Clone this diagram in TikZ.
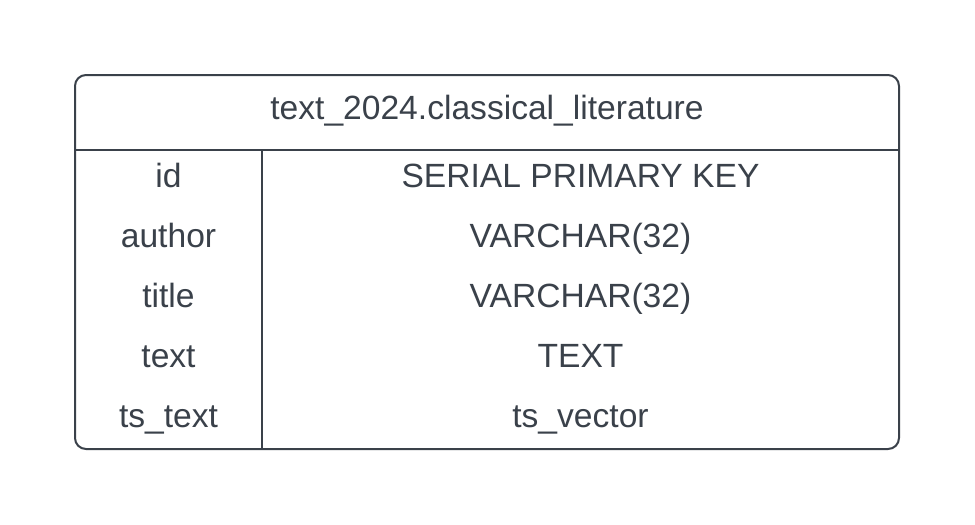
\documentclass[tikz,border=0pt]{standalone}
\usepackage{fontspec}
\setmainfont{Liberation Sans}
\definecolor{ink}{HTML}{3A414A}
\begin{document}
\begin{tikzpicture}[x=1pt,y=-1pt,
  frame/.style={draw=ink,line width=2pt},
  cell/.style={anchor=base,inner sep=0pt,text=ink,font=\fontsize{33.6}{40}\selectfont}]
\useasboundingbox (0,0) rectangle (975,525);
% table outline, header rule and column divider
\draw[frame,rounded corners=11pt] (75,75) rectangle (899,449);
\draw[frame] (75,150) -- (899,150);
\draw[frame] (262,150) -- (262,449);
% header
\node[cell] (hdr) at (487,119) {text\_2024.classical\_literature};
% column names
\node[cell] (c1) at (168.5,187) {id};
\node[cell] (c2) at (168.5,247) {author};
\node[cell] (c3) at (168.5,307) {title};
\node[cell] (c4) at (168.5,367) {text};
\node[cell] (c5) at (168.5,427) {ts\_text};
% column types
\node[cell] (t1) at (580.5,187) {SERIAL PRIMARY KEY};
\node[cell] (t2) at (580.5,247) {VARCHAR(32)};
\node[cell] (t3) at (580.5,307) {VARCHAR(32)};
\node[cell] (t4) at (580.5,367) {TEXT};
\node[cell] (t5) at (580.5,427) {ts\_vector};
\end{tikzpicture}
\end{document}
